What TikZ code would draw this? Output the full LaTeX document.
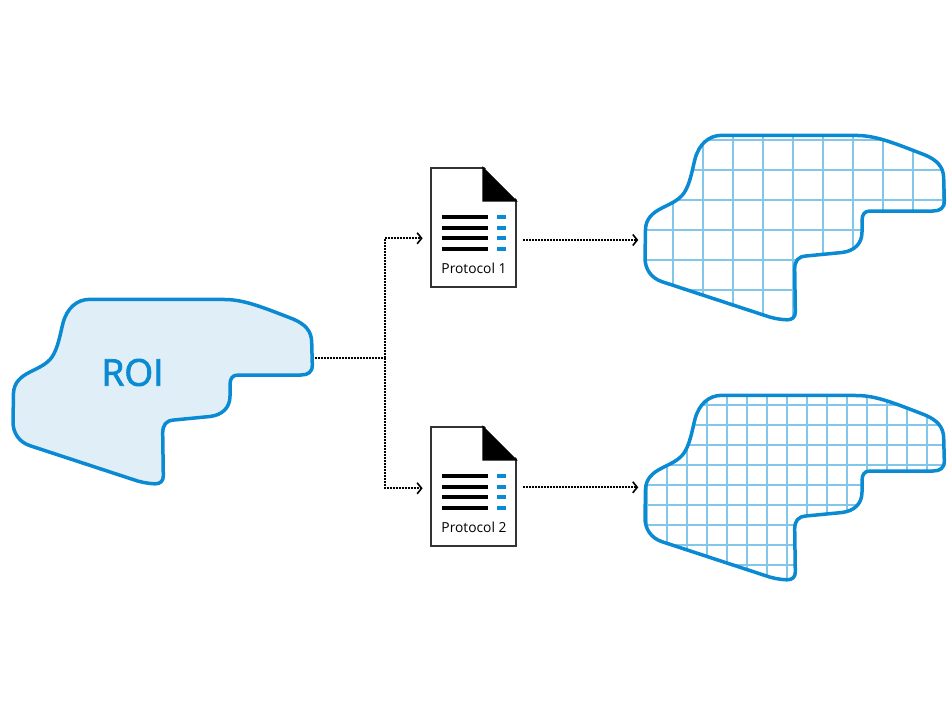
\documentclass[tikz,border=0pt]{standalone}
\usepackage{fontspec}
\setmainfont{Open Sans}
\usetikzlibrary{arrows.meta}
\definecolor{roiblue}{HTML}{0A8AD2}
\definecolor{roifill}{HTML}{E0EEF8}
\definecolor{gridblue}{HTML}{82C6EA}
\tikzset{
  roiline/.style={draw=roiblue, line width=3.5pt, line join=round},
  gridline/.style={draw=gridblue, line width=1.9pt},
  flow/.style={line width=1.9pt, dash pattern=on 1.8pt off 1.2pt, -{Straight Barb[length=4.5pt,width=11pt,line width=1.6pt]}},
  flowplain/.style={line width=1.9pt, dash pattern=on 1.8pt off 1.2pt},
  docbox/.style={draw=black!80, line width=1.7pt, fill=white, minimum width=84.7pt, minimum height=119pt, inner sep=0pt},
  textbar/.style={line width=3.8pt},
  doctext/.style={font=\fontsize{13.8}{15}\selectfont, inner sep=0pt, anchor=base}
}
% outline of the region, used again for the two gridded copies
\newcommand{\roioutline}{(90,299.3) -- (226,299.5) .. controls (245,300) and (262,307) .. (293,319) .. controls (305,324) and (311.5,331) .. (311.7,342) -- (312.3,365) .. controls (312.5,372) and (308,375) .. (301,375) -- (238,375) .. controls (232,375) and (230,379) .. (230,385) -- (230,396) .. controls (230,408) and (222,415) .. (210,416.5) -- (174,420) .. controls (166,420.5) and (162.7,425) .. (162.7,433) -- (163.3,476) .. controls (163.5,481) and (160,484) .. (155,483.8) .. controls (147,483.5) and (140,482) .. (133,479.5) -- (30,445.7) .. controls (19,442) and (13,433) .. (13,422) -- (13.5,393) .. controls (14,383) and (20,377) .. (30,372) .. controls (40,367) and (47,364) .. (52,357) .. controls (58,348) and (60,335) .. (63,323) .. controls (67,308) and (77,299.3) .. (90,299.3) -- cycle}
\begin{document}
\begin{tikzpicture}[x=1pt, y=-1pt]
\useasboundingbox (0,0) rectangle (952,714);

% left region
\path[roiline, fill=roifill] \roioutline;
\node (roi) at (132.5,372.5) {\fontsize{37}{40}\selectfont\color{roiblue}\special{pdf:code 2 Tr 0.8 w}ROI\special{pdf:code 0 Tr}};

% coarse grid
\begin{scope}
\clip[shift={(632,-164)}] \roioutline;
\foreach \gx in {642.7,672.7,...,942.7} \draw[gridline] (\gx,130) -- (\gx,325);
\foreach \gy in {140,170,...,290} \draw[gridline] (640,\gy) -- (950,\gy);
\end{scope}
\path[roiline, shift={(632,-164)}] \roioutline;

% fine grid
\begin{scope}
\clip[shift={(632,96)}] \roioutline;
\foreach \gx in {647.3,667.3,...,947.3} \draw[gridline] (\gx,390) -- (\gx,585);
\foreach \gy in {405,425,...,565} \draw[gridline] (640,\gy) -- (950,\gy);
\end{scope}
\path[roiline, shift={(632,96)}] \roioutline;

% protocol documents
\foreach \n/\dy in {1/0, 2/259} {
\begin{scope}[shift={(0,\dy)}]
\node[docbox] (doc\n) at (473.35,227.8) {};
\fill[white] (483.3,166) -- (518,166) -- (518,200.7) -- cycle;
\draw[line width=1.7pt, fill=black] (483.3,168.3) -- (515.7,200.7) -- (483.3,200.7) -- cycle;
\foreach \ly in {217.3,227.7,238.3,248.7} {
\draw[textbar] (442.3,\ly) -- (488.3,\ly);
\draw[textbar, roiblue] (497.3,\ly) -- (505.7,\ly);
}
\node[doctext] (lab\n) at (474,273.3) {Protocol \n};
\end{scope}
}

\coordinate (roiout) at (315,358);
\coordinate (branch) at (385,358);
\coordinate (grid1in) at (638.3,240);
\coordinate (grid2in) at (638.3,487.3);

\draw[flowplain] (roiout) -- (branch);
\draw[flow] (branch) |- ([xshift=-7.5pt,yshift=-10.5pt]doc1.west);
\draw[flow] (branch) |- ([xshift=-7.5pt,yshift=-1.5pt]doc2.west);
\draw[flow] ([xshift=6.5pt,yshift=-12.2pt]doc1.east) -- (grid1in);
\draw[flow] ([xshift=6.5pt,yshift=-0.5pt]doc2.east) -- (grid2in);
\end{tikzpicture}
\end{document}
